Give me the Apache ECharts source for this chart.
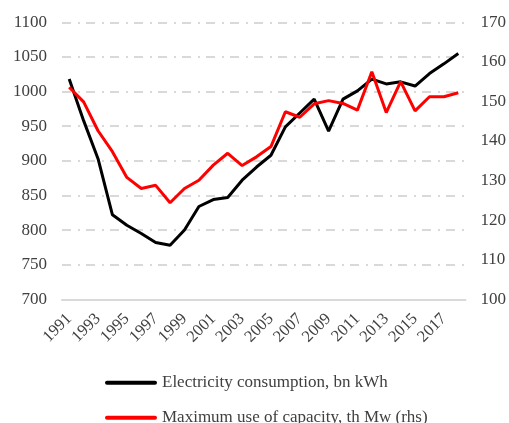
<!DOCTYPE html>
<html>
<head>
<meta charset="utf-8">
<script src="https://cdn.jsdelivr.net/npm/echarts@6/dist/echarts.min.js"></script>
<style>
  html, body { margin: 0; padding: 0; background: #fff; }
  #chart { width: 509px; height: 423px; }
</style>
</head>
<body>
<div id="chart"></div>
<script>
const years = ['1991','1992','1993','1994','1995','1996','1997','1998','1999','2000','2001','2002','2003','2004','2005','2006','2007','2008','2009','2010','2011','2012','2013','2014','2015','2016','2017','2018'];
const consumption = [1018, 958, 903, 822, 807, 795, 782, 778, 800, 834, 844, 847, 872, 891, 908, 949, 969, 989, 943, 989, 1001, 1018, 1011, 1014, 1008, 1026, 1040, 1055];
const capacity = [153.6, 149.9, 142.6, 137.3, 130.8, 128.0, 128.8, 124.4, 128.0, 130.1, 133.9, 136.9, 133.8, 136.0, 138.6, 147.4, 146.0, 149.4, 150.2, 149.5, 147.8, 157.5, 147.2, 155.0, 147.6, 151.2, 151.2, 152.2];
const seriesNames = ['Electricity consumption, bn kWh', 'Maximum use of capacity, th Mw (rhs)'];

const font = 'Liberation Serif';
const textColor = '#404040';
const lineIcon = 'path://M2,0 L50,0 A2,2 0 0 1 50,4 L2,4 A2,2 0 0 1 2,0 Z';
function legendFor(name, top) {
  return {
    orient: 'vertical',
    left: 105,
    top: top,
    padding: 0,
    itemWidth: 52,
    itemHeight: 4,
    icon: lineIcon,
    textStyle: { fontFamily: font, fontSize: 17, color: textColor, lineHeight: 20 },
    data: [name]
  };
}
const chart = echarts.init(document.getElementById('chart'), null, { renderer: 'canvas' });
chart.setOption({
  animation: false,
  backgroundColor: '#fff',
  grid: { left: 62, right: 43, top: 22.3, bottom: 123.7, containLabel: false },
  legend: [legendFor(seriesNames[0], 372.7), legendFor(seriesNames[1], 407.7)],
  xAxis: {
    type: 'category',
    data: years,
    boundaryGap: true,
    axisLine: { show: true, lineStyle: { color: '#d9d9d9', width: 2 } },
    axisTick: { show: false },
    axisLabel: { interval: 1, rotate: 45, margin: 17, fontFamily: font, fontSize: 16.5, color: textColor }
  },
  yAxis: [
    {
      type: 'value', min: 700, max: 1100, interval: 50,
      axisLine: { show: false }, axisTick: { show: false },
      axisLabel: { margin: 15, fontFamily: font, fontSize: 17, color: textColor, formatter: function (v) { return String(v); } },
      splitLine: { show: true, lineStyle: { color: '#d9d9d9', width: 2, type: [9, 7, 2, 6] } }
    },
    {
      type: 'value', min: 100, max: 170, interval: 10,
      axisLine: { show: false }, axisTick: { show: false },
      axisLabel: { margin: 15, fontFamily: font, fontSize: 17, color: textColor, formatter: function (v) { return String(v); } },
      splitLine: { show: false }
    }
  ],
  series: [
    {
      name: seriesNames[0], type: 'line', data: consumption, yAxisIndex: 0,
      symbol: 'none', lineStyle: { color: '#000000', width: 3 }, itemStyle: { color: '#000000' }, z: 3
    },
    {
      name: seriesNames[1], type: 'line', data: capacity, yAxisIndex: 1,
      symbol: 'none', lineStyle: { color: '#ff0000', width: 3 }, itemStyle: { color: '#ff0000' }, z: 4
    }
  ]
});
</script>
</body>
</html>
